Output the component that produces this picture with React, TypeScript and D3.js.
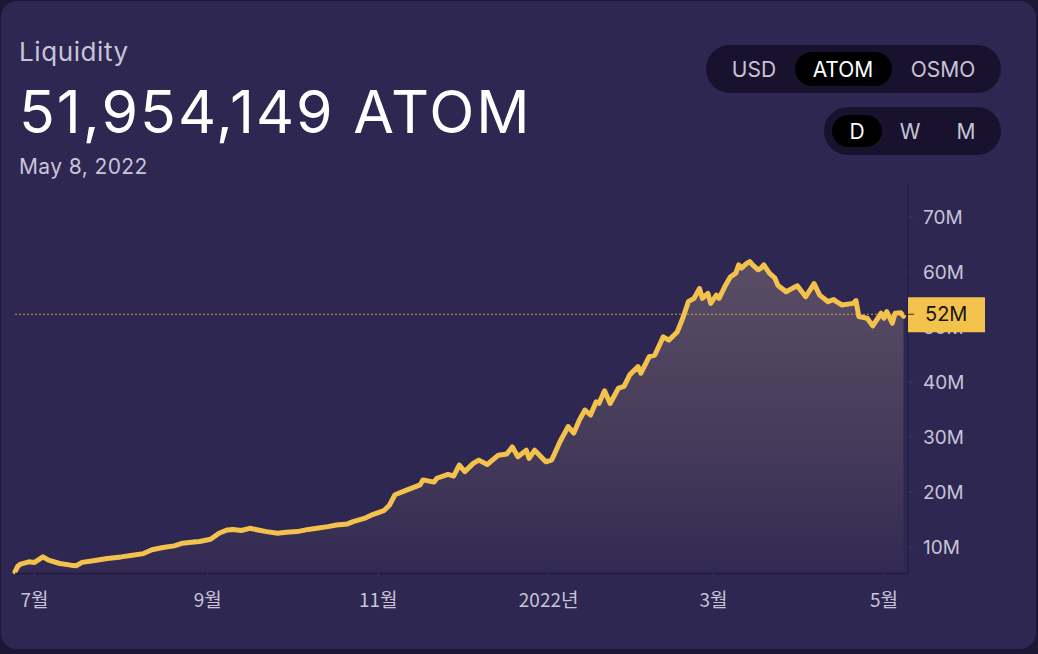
import React from "react";
import * as d3 from "d3";

const dates: string[] = [
  "2021-06-24","2021-06-25","2021-06-26","2021-06-29","2021-07-01","2021-07-04","2021-07-06","2021-07-10","2021-07-14","2021-07-16",
  "2021-07-18","2021-07-22","2021-07-27","2021-08-01","2021-08-05","2021-08-09","2021-08-12","2021-08-16","2021-08-20","2021-08-23",
  "2021-08-27","2021-08-29","2021-09-02","2021-09-05","2021-09-08","2021-09-10","2021-09-13","2021-09-16","2021-09-19","2021-09-22",
  "2021-09-26","2021-09-29","2021-10-03","2021-10-07","2021-10-10","2021-10-14","2021-10-17","2021-10-21","2021-10-23","2021-10-27",
  "2021-10-30","2021-11-03","2021-11-05","2021-11-07","2021-11-10","2021-11-13","2021-11-16","2021-11-17","2021-11-21","2021-11-22",
  "2021-11-26","2021-11-28","2021-11-30","2021-12-02","2021-12-05","2021-12-07","2021-12-10","2021-12-14","2021-12-17","2021-12-19",
  "2021-12-21","2021-12-24","2021-12-25","2021-12-27","2021-12-31","2022-01-02","2022-01-03","2022-01-05","2022-01-08","2022-01-10",
  "2022-01-12","2022-01-14","2022-01-16","2022-01-18","2022-01-19","2022-01-21","2022-01-23","2022-01-26","2022-01-28","2022-01-30",
  "2022-02-02","2022-02-03","2022-02-06","2022-02-08","2022-02-11","2022-02-13","2022-02-16","2022-02-18","2022-02-20","2022-02-22",
  "2022-02-24","2022-02-25","2022-02-27","2022-02-28","2022-03-02","2022-03-03","2022-03-05","2022-03-07","2022-03-09","2022-03-10",
  "2022-03-11","2022-03-13","2022-03-14","2022-03-15","2022-03-17","2022-03-18","2022-03-19","2022-03-21","2022-03-23","2022-03-24",
  "2022-03-27","2022-03-28","2022-03-31","2022-04-03","2022-04-06","2022-04-08","2022-04-11","2022-04-13","2022-04-14","2022-04-16",
  "2022-04-20","2022-04-21","2022-04-22","2022-04-25","2022-04-27","2022-04-30","2022-05-01","2022-05-02","2022-05-04","2022-05-05",
  "2022-05-07","2022-05-08",
];

// liquidity in millions of ATOM
const liquidity: number[] = [
  5.5, 6.5, 6.9, 7.3, 7.2, 8.2, 7.6, 7.0, 6.7, 6.6,
  7.2, 7.5, 7.9, 8.2, 8.5, 8.8, 9.5, 9.9, 10.2, 10.7,
  10.9, 11.0, 11.4, 12.5, 13.1, 13.2, 13.0, 13.4, 13.1, 12.8,
  12.5, 12.7, 12.8, 13.2, 13.4, 13.7, 14.0, 14.2, 14.6, 15.2,
  15.9, 16.6, 17.6, 19.5, 20.1, 20.7, 21.3, 22.2, 21.8, 22.5,
  23.2, 22.9, 24.9, 23.7, 25.2, 25.8, 25.0, 26.7, 26.9, 28.2,
  26.4, 27.6, 26.1, 27.6, 25.5, 25.8, 26.8, 29.1, 31.9, 30.7,
  33.1, 34.9, 34.0, 36.4, 36.1, 38.4, 36.1, 38.9, 39.2, 41.3,
  42.8, 41.6, 44.6, 44.9, 48.2, 47.6, 49.1, 51.6, 54.6, 55.2,
  57.0, 55.2, 56.1, 54.3, 55.8, 55.2, 57.3, 59.1, 59.8, 61.3,
  60.7, 61.6, 61.9, 61.3, 60.4, 60.7, 61.3, 59.8, 58.9, 57.6,
  56.4, 56.7, 57.5, 55.5, 57.9, 55.8, 54.6, 55.0, 54.6, 54.0,
  54.3, 54.8, 51.9, 51.6, 50.2, 52.5, 51.6, 52.8, 50.7, 52.5,
  52.6, 51.954149,
];

const yTicks: number[] = [10, 20, 30, 40, 50, 60, 70];
const xTickDates: string[] = ["2021-07-01", "2021-09-01", "2021-11-01", "2022-01-01", "2022-03-01", "2022-05-01"];
const xTickLabels: string[] = ["7월", "9월", "11월", "2022년", "3월", "5월"];
const currencyOptions: string[] = ["USD", "ATOM", "OSMO"];
const periodOptions: string[] = ["D", "W", "M"];

const title = "Liquidity";
const headline = "51,954,149 ATOM";
const dateLabel = "May 8, 2022";
const currentLabel = "52M";

const W = 1038;
const H = 654;
const FONT = "Inter, 'Noto Sans', sans-serif";
const TEXT = "#c8c4d6";
const YELLOW = "#f3c24d";

export default function App() {
  const parse = d3.timeParse("%Y-%m-%d");
  const data = dates.map((d, i) => ({ date: parse(d) as Date, value: liquidity[i] }));

  const left = 15, right = 903.5, top = 183, bottom = 573, axisX = 908;
  const x = d3
    .scaleTime()
    .domain([data[0].date, data[data.length - 1].date])
    .range([left, right]);
  const y = d3.scaleLinear().domain([0, 70]).range([602, 217]);

  const line = d3
    .line<{ date: Date; value: number }>()
    .x((d) => x(d.date))
    .y((d) => y(d.value))
    .curve(d3.curveLinear);
  const area = d3
    .area<{ date: Date; value: number }>()
    .x((d) => x(d.date))
    .y0(bottom)
    .y1((d) => y(d.value))
    .curve(d3.curveLinear);

  const last = data[data.length - 1];
  const lastY = y(last.value) - 2;

  return (
    <svg
      width={W}
      height={H}
      style={{ position: "absolute", left: 0, top: 0, display: "block" }}
      fontFamily={FONT}
    >
      <defs>
        <linearGradient id="areaGrad" gradientUnits="userSpaceOnUse" x1="0" y1="260" x2="0" y2={bottom}>
          <stop offset="0%" stopColor="#5a4d65" />
          <stop offset="60%" stopColor="#453a59" />
          <stop offset="100%" stopColor="#322a53" />
        </linearGradient>
      </defs>
      <rect x={0} y={0} width={W} height={H} fill="#1b1735" />
      <rect x={1} y={1} width={W - 3} height={H - 6} rx={16} fill="#2d2752" />

      {/* header */}
      <text x={19} y={61} fontSize={26} letterSpacing={0.6} fill={TEXT}>{title}</text>
      <text x={19} y={133} fontSize={59} letterSpacing={2} fill="#ffffff">{headline}</text>
      <text x={19} y={174} fontSize={21} letterSpacing={0.4} fill={TEXT}>{dateLabel}</text>

      {/* currency toggle */}
      <rect x={706} y={45} width={295} height={48} rx={24} fill="#18122f" />
      <rect x={795} y={52} width={97} height={34} rx={17} fill="#000000" />
      {currencyOptions.map((c, i) => (
        <text
          key={c}
          x={[754, 843, 943][i]}
          y={77}
          fontSize={21}
          textAnchor="middle"
          fill={c === "ATOM" ? "#ffffff" : TEXT}
        >
          {c}
        </text>
      ))}

      {/* period toggle */}
      <rect x={824} y={107} width={177} height={48} rx={24} fill="#18122f" />
      <rect x={832} y={115} width={50} height={32} rx={16} fill="#000000" />
      {periodOptions.map((p, i) => (
        <text
          key={p}
          x={[857, 910, 966][i]}
          y={139}
          fontSize={21}
          textAnchor="middle"
          fill={p === "D" ? "#ffffff" : TEXT}
        >
          {p}
        </text>
      ))}

      {/* area + line */}
      <path d={area(data) || ""} fill="url(#areaGrad)" />
      <path
        d={line(data) || ""}
        fill="none"
        stroke={YELLOW}
        strokeWidth={5}
        strokeLinejoin="round"
        strokeLinecap="round"
      />

      {/* axes frame */}
      <line x1={axisX} x2={axisX} y1={top} y2={bottom} stroke="#211b3f" strokeWidth={1} />
      <line x1={left} x2={axisX} y1={bottom + 0.5} y2={bottom + 0.5} stroke="#211b3f" strokeWidth={1.5} />

      {/* y axis */}
      {yTicks.map((t) => (
        <g key={t}>
          <line x1={axisX} x2={axisX + 5} y1={y(t)} y2={y(t)} stroke="#3a3460" />
          <text x={923} y={y(t)} dy="0.36em" fontSize={19} fill={TEXT}>
            {`${t}M`}
          </text>
        </g>
      ))}

      {/* x axis */}
      {xTickDates.map((d, i) => {
        const xx = x(parse(d) as Date);
        return (
          <g key={d}>
            <line x1={xx} x2={xx} y1={bottom} y2={bottom + 4} stroke="#3a3460" />
            <text
              x={xx}
              y={607}
              fontSize={19}
              textAnchor="middle"
              fill={TEXT}
              fontFamily="'Noto Sans CJK KR', sans-serif"
            >
              {xTickLabels[i]}
            </text>
          </g>
        );
      })}

      {/* current value marker */}
      <line
        x1={left}
        x2={x(last.date)}
        y1={lastY}
        y2={lastY}
        stroke={YELLOW}
        strokeOpacity={0.75}
        strokeWidth={1}
        strokeDasharray="2,2"
      />
      <rect x={axisX} y={lastY - 17} width={77} height={35} fill={YELLOW} />
      <line x1={axisX - 4} x2={axisX + 6} y1={lastY} y2={lastY} stroke="#3b3020" strokeWidth={1} />
      <text x={925} y={lastY} dy="0.36em" fontSize={20} fill="#141414">
        {currentLabel}
      </text>
    </svg>
  );
}
